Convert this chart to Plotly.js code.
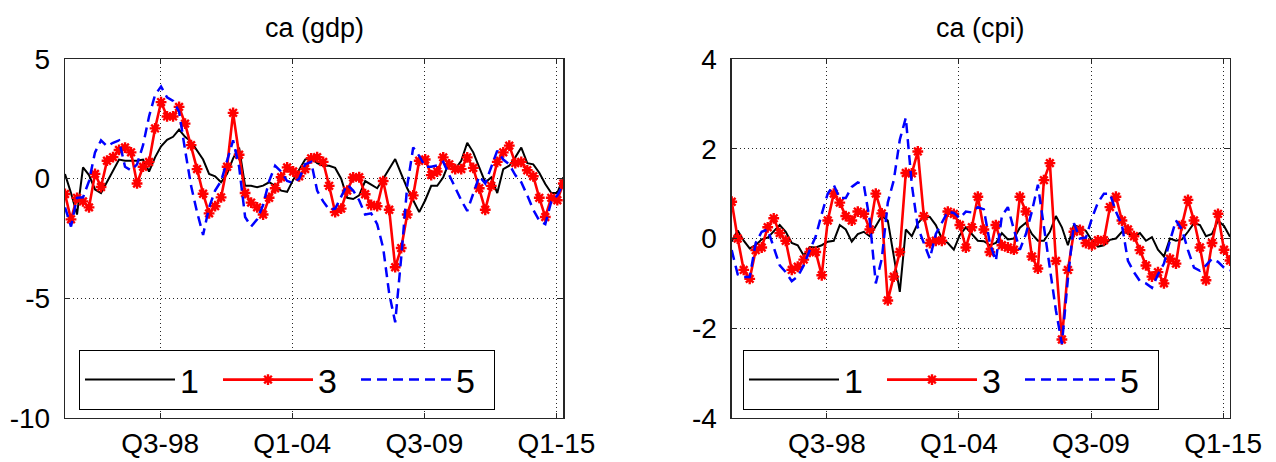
<!DOCTYPE html>
<html>
<head>
<meta charset="utf-8">
<script src="https://cdn.plot.ly/plotly-3.0.1.min.js"></script>
<style>html,body{margin:0;padding:0;background:#fff;}#chart{width:1276px;height:462px;}</style>
</head>
<body>
<div id="chart"></div>
<script>
// Quarterly observations (84 quarters)
const gdp1 = [0.19,-0.6,-1.5,0.47,0.15,-0.45,-0.6,-0.15,0.3,0.8,
 0.75,0.75,0.75,0.8,0.3,0.89,1.35,1.62,1.75,2.05,
 1.75,1.55,1.15,0.8,0.2,0.1,-0.15,0.2,0.85,1.3,
 -0.3,-0.3,-0.36,-0.29,-0.15,-0.3,-0.5,-0.55,-0.05,0.4,
 0.8,0.89,0.65,0.54,0.54,0.45,0.0,-0.8,-0.85,-0.7,
 -0.1,-0.25,-0.4,0.0,0.4,0.82,0.2,-0.4,-0.9,-1.4,
 -0.9,-0.3,-0.3,0.06,0.7,0.4,0.75,1.5,1.1,0.5,
 -0.15,0.05,-0.6,0.4,0.54,0.89,1.3,0.65,0.6,0.25,
 -0.22,-0.6,-0.6,0.06];
const gdp3 = [-0.64,-1.7,-0.8,-0.95,-1.2,0.2,-0.35,0.75,0.9,1.2,
 1.3,1.1,-0.2,0.5,0.7,2.1,3.2,2.6,2.6,3.0,
 2.3,1.4,0.4,-0.63,-1.45,-1.15,-0.78,0.5,2.75,1.0,
 -0.6,-1.0,-1.2,-1.5,-0.8,-0.4,0.06,0.47,0.3,0.1,
 0.4,0.85,0.9,0.7,-0.3,-1.4,-1.25,-0.5,0.05,0.06,
 -0.65,-1.1,-1.15,-0.1,-1.3,-3.7,-2.9,-1.5,-0.7,0.75,
 0.8,0.15,0.3,0.89,0.6,0.4,0.4,0.89,0.45,-0.4,
 -1.3,-0.3,0.7,1.1,1.38,0.65,0.7,0.35,0.1,-0.8,
 -1.6,-0.8,-0.9,-0.2];
const gdp5 = [-1.2,-2.0,-0.8,-0.78,-0.1,1.1,1.6,1.35,1.5,1.6,
 0.5,0.35,0.6,1.4,2.6,3.5,3.85,3.4,3.25,2.8,
 1.2,-0.3,-1.4,-2.35,-1.2,-0.5,-0.1,0.8,1.6,0.5,
 -1.6,-2.0,-1.7,-1.1,-0.1,0.54,0.3,-0.1,-0.18,0.0,
 0.6,0.7,-0.5,-0.95,-1.3,-1.25,-0.75,-0.25,-0.5,-0.9,
 -1.5,-1.45,-1.9,-2.9,-4.8,-6.0,-3.3,-0.3,1.3,0.95,
 0.5,0.5,0.55,0.7,0.15,-0.4,-0.9,-1.35,-0.6,0.1,
 -0.2,0.5,1.17,0.8,0.6,0.15,-0.15,-0.7,-1.3,-1.75,
 -1.9,-0.95,-0.7,-0.22];
const cpi1 = [-0.07,0.18,-0.05,-0.22,-0.15,-0.02,0.02,0.15,0.3,0.15,
 -0.1,-0.15,-0.38,-0.19,-0.2,-0.15,-0.07,-0.05,0.3,0.2,
 -0.07,0.1,0.15,0.05,0.26,0.5,0.4,-0.4,-1.19,0.2,
 0.05,0.34,0.49,0.48,0.3,0.0,-0.1,-0.25,0.08,0.25,
 0.1,-0.05,-0.06,-0.15,-0.1,0.12,-0.02,0.0,0.24,0.35,
 0.1,-0.05,-0.05,0.15,0.5,0.25,-0.15,0.3,0.25,0.17,
 -0.05,-0.18,-0.15,-0.03,0.0,0.15,0.12,0.05,0.12,-0.05,
 0.03,-0.25,-0.4,0.0,-0.05,-0.02,0.15,0.34,0.3,0.05,
 0.1,0.4,0.28,0.04];
const cpi3 = [0.82,0.0,-0.7,-0.9,-0.26,-0.2,0.25,0.45,0.12,-0.05,
 -0.7,-0.63,-0.47,-0.3,-0.3,-0.82,0.4,1.0,0.8,0.5,
 0.4,0.6,0.55,0.2,1.0,0.56,-1.38,-0.85,-0.3,1.46,
 1.45,1.94,0.5,-0.1,-0.05,-0.05,0.6,0.55,0.3,-0.2,
 0.25,0.93,0.2,-0.3,0.3,-0.15,-0.2,-0.25,0.93,0.6,
 -0.4,-0.67,1.3,1.68,-0.5,-2.25,-0.7,0.15,0.19,-0.1,
 -0.15,-0.04,-0.04,0.7,0.93,0.4,0.2,0.05,-0.26,-0.6,
 -0.85,-0.75,-1.0,-0.45,-0.56,0.3,0.86,0.4,-0.2,-0.93,
 -0.1,0.55,-0.25,-0.49];
const cpi5 = [-0.26,-0.8,-0.86,-0.86,-0.1,0.15,0.2,-0.2,-0.6,-0.75,
 -0.95,-0.85,-0.6,-0.26,0.05,0.55,1.0,1.19,0.9,0.9,
 1.15,1.25,1.2,0.4,-1.0,-0.45,0.8,1.3,2.2,2.69,
 1.2,0.25,-0.1,-0.45,0.1,0.35,0.6,0.57,0.45,0.6,
 0.58,0.7,0.65,-0.1,-0.5,0.5,0.7,0.2,-0.25,0.1,
 0.6,1.2,0.3,-0.7,-1.6,-2.35,-0.9,0.34,0.0,0.02,
 0.45,0.8,1.0,1.0,0.6,0.3,-0.5,-0.75,-0.95,-1.0,
 -1.1,-0.8,-0.56,-0.05,0.4,0.2,-0.26,-0.65,-0.72,-0.6,
 -0.45,-0.52,-0.65,-0.71];

const seriesNames = ['1', '3', '5'];
const xTickLabels = ['Q3-98', 'Q1-04', 'Q3-09', 'Q1-15'];
const xTickPos = [15.85, 37.85, 59.85, 81.85];
const yTicksGdp = [-10, -5, 0, 5];
const yTicksCpi = [-4, -2, 0, 2, 4];
const panelTitles = ['ca (gdp)', 'ca (cpi)'];

const quarters = gdp1.map((_, i) => i);

const FONT = 'Liberation Sans, Arial, Helvetica, sans-serif';
const styles = [
  {line: {color: '#000000', width: 2}, mode: 'lines'},
  {line: {color: '#ff0000', width: 2.6}, mode: 'lines+markers',
   marker: {symbol: 'asterisk', size: 9, color: '#ff0000', line: {color: '#ff0000', width: 2.4}}},
  {line: {color: '#0000ff', width: 2.5, dash: '10px,6px'}, mode: 'lines'}
];

const traces = [];
[gdp1, gdp3, gdp5].forEach((ys, k) => {
  traces.push(Object.assign({x: quarters, y: ys, name: seriesNames[k], xaxis: 'x', yaxis: 'y', legend: 'legend', hoverinfo: 'skip'}, JSON.parse(JSON.stringify(styles[k]))));
});
[cpi1, cpi3, cpi5].forEach((ys, k) => {
  traces.push(Object.assign({x: quarters, y: ys, name: seriesNames[k], xaxis: 'x2', yaxis: 'y2', legend: 'legend2', hoverinfo: 'skip'}, JSON.parse(JSON.stringify(styles[k]))));
});

const W = 1276, H = 462;
function axisCommon() {
  return {
    showline: true, linecolor: '#262626', linewidth: 1.3, mirror: 'ticks',
    ticks: 'inside', ticklen: 5, tickcolor: '#262626', tickwidth: 1,
    showgrid: true, gridcolor: '#262626', gridwidth: 1, griddash: '1px,3px',
    zeroline: false, tickfont: {family: FONT, size: 28, color: '#000'}, fixedrange: true
  };
}
const xa = Object.assign(axisCommon(), {domain: [65/W, 563.3/W], range: [0, 83], tickvals: xTickPos, ticktext: xTickLabels, anchor: 'y', ticklabelstandoff: 0});
const xa2 = Object.assign(axisCommon(), {domain: [731.7/W, 1230/W], range: [0, 83], tickvals: xTickPos, ticktext: xTickLabels, anchor: 'y2', ticklabelstandoff: 0});
const ya = Object.assign(axisCommon(), {domain: [(H-418)/H, (H-59)/H], range: [-10, 5], tickvals: yTicksGdp, ticktext: yTicksGdp.map(String), anchor: 'x', ticklabelstandoff: 8});
const ya2 = Object.assign(axisCommon(), {domain: [(H-418)/H, (H-59)/H], range: [-4, 4], tickvals: yTicksCpi, ticktext: yTicksCpi.map(String), anchor: 'x2', ticklabelstandoff: 8});

function legendCfg(xpx) {
  return {
    x: xpx/W, y: (H-350)/H, xanchor: 'left', yanchor: 'top', orientation: 'h',
    bordercolor: '#000', borderwidth: 1, bgcolor: '#fff',
    font: {family: FONT, size: 34, color: '#000'},
    itemwidth: 90, entrywidth: 33, entrywidthmode: 'pixels', traceorder: 'normal'
  };
}

const layout = {
  width: W, height: H, margin: {l: 0, r: 0, t: 0, b: 0, autoexpand: false},
  paper_bgcolor: '#fff', plot_bgcolor: '#fff', showlegend: true,
  font: {family: FONT, color: '#000'},
  xaxis: xa, yaxis: ya, xaxis2: xa2, yaxis2: ya2,
  legend: legendCfg(79), legend2: legendCfg(743),
  annotations: [
    {text: panelTitles[0], xref: 'paper', yref: 'paper', x: (65+563.3)/2/W, y: (H-28)/H, xanchor: 'center', yanchor: 'middle', showarrow: false, font: {family: FONT, size: 27, color: '#000'}},
    {text: panelTitles[1], xref: 'paper', yref: 'paper', x: (731.7+1230)/2/W, y: (H-28)/H, xanchor: 'center', yanchor: 'middle', showarrow: false, font: {family: FONT, size: 27, color: '#000'}}
  ]
};

Plotly.newPlot('chart', traces, layout, {displayModeBar: false, staticPlot: true});
</script>
</body>
</html>
